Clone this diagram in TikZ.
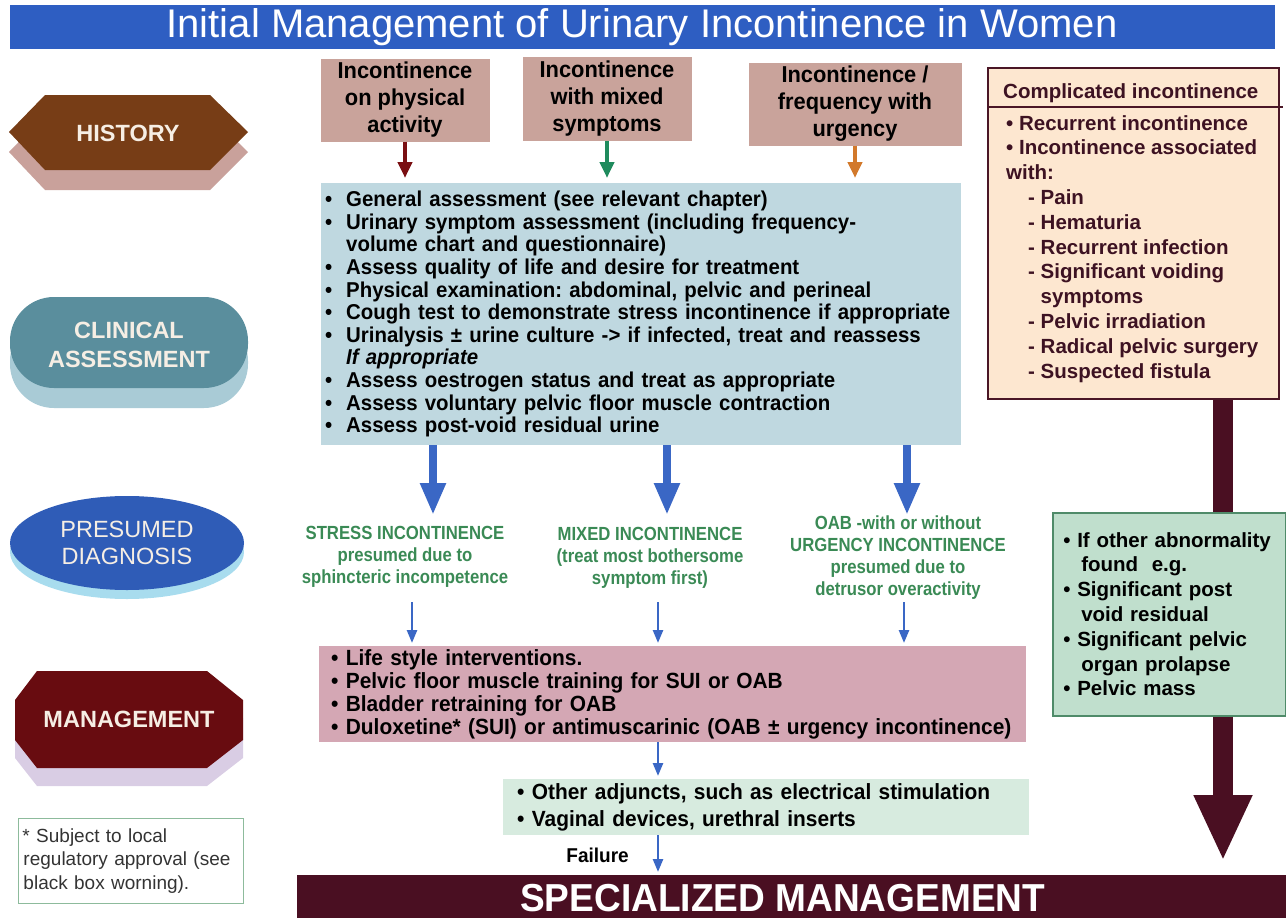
\documentclass[tikz,border=0pt]{standalone}
\usepackage{fontspec}
\setmainfont{Liberation Sans}
\newfontfamily\narrowfont[FakeStretch=0.95]{Liberation Sans}
\newfontfamily\condfont[FakeStretch=0.88]{Liberation Sans}
\usepackage{tikz}
\usetikzlibrary{arrows.meta}
\frenchspacing

\definecolor{titleblue}{HTML}{2E5EC2}
\definecolor{histbrown}{HTML}{773D16}
\definecolor{histshade}{HTML}{C9A19B}
\definecolor{histfill}{HTML}{C9A39B}
\definecolor{clinteal}{HTML}{5A8E9D}
\definecolor{clinshade}{HTML}{A9CBD6}
\definecolor{clinfill}{HTML}{BFD8E0}
\definecolor{diagblue}{HTML}{2F5CB7}
\definecolor{diagshade}{HTML}{A8DCEE}
\definecolor{diaggreen}{HTML}{3A8A55}
\definecolor{mgmtred}{HTML}{680C10}
\definecolor{mgmtshade}{HTML}{D9CDE4}
\definecolor{mgmtfill}{HTML}{D4A7B4}
\definecolor{adjfill}{HTML}{D7EBDF}
\definecolor{specred}{HTML}{4A0F22}
\definecolor{compfill}{HTML}{FDE7D0}
\definecolor{compline}{HTML}{4A1626}
\definecolor{comptext}{HTML}{3D1222}
\definecolor{greenfill}{HTML}{C0DFCD}
\definecolor{greenline}{HTML}{4F8B69}
\definecolor{notegreen}{HTML}{8DBB9C}
\definecolor{arrowblue}{HTML}{3A67C5}
\definecolor{arrowred}{HTML}{7A0F12}
\definecolor{arrowgreen}{HTML}{1F8B5D}
\definecolor{arroworange}{HTML}{D2792B}
\definecolor{labtext}{HTML}{F6EEE4}

\newcommand\bul{\makebox[21pt][l]{\textbullet}}

\begin{document}
\begin{tikzpicture}[x=1pt,y=-1pt,
  every node/.style={inner sep=0pt},
  lab/.style={text=labtext,align=center,font=\bfseries\fontsize{23.5}{29}\selectfont},
  hbox/.style={fill=histfill,align=center,font=\narrowfont\bfseries\fontsize{23}{27}\selectfont},
  box/.style={anchor=north west,align=left,inner xsep=3pt,font=\narrowfont\bfseries\fontsize{21.5}{22.6}\selectfont},
  diag/.style={text=diaggreen,align=center,font=\condfont\bfseries\fontsize{19}{22}\selectfont},
  side/.style={anchor=north west,align=left,font=\bfseries\fontsize{20.5}{24.8}\selectfont},
  fatarrow/.style={arrowblue,line width=8pt,-{Triangle[width=24pt,length=32pt]}},
  thinarrow/.style={arrowblue,line width=2.5pt,-{Triangle[width=10pt,length=13pt]},shorten >=3pt},
  histarrow/.style={line width=4pt,-{Triangle[width=14pt,length=16pt]},shorten >=5pt}]
\useasboundingbox (0,0) rectangle (1286,918);

\node[fill=titleblue,minimum width=1265pt,minimum height=44pt,text=white,font=\fontsize{40}{40}\selectfont] (title) at (642,27) {Initial Management of Urinary Incontinence in Women};

\fill[histshade] (9,152) -- (45,115) -- (210,115) -- (248,152) -- (210,190) -- (45,190) -- cycle;
\fill[histbrown] (9,132) -- (45,95) -- (210,95) -- (248,132) -- (210,170) -- (45,170) -- cycle;
\node[lab] (hist) at (128,133) {HISTORY};

\fill[clinshade,rounded corners=44pt] (10,317) rectangle (248,408);
\fill[clinteal,rounded corners=44pt] (10,297) rectangle (248,388);
\node[lab] (clinlab) at (129,345) {CLINICAL\\ASSESSMENT};

\fill[diagshade] (127,552) ellipse [x radius=117, y radius=47];
\fill[diagblue] (127,543) ellipse [x radius=117, y radius=47];
\node[lab,font=\fontsize{23.5}{27}\selectfont] (diaglab) at (127,543) {PRESUMED\\DIAGNOSIS};

\fill[mgmtshade] (37,689) -- (207,689) -- (243,718) -- (243,758) -- (207,786) -- (37,786) -- (15,758) -- (15,718) -- cycle;
\fill[mgmtred] (37,671) -- (207,671) -- (243,700) -- (243,740) -- (207,768) -- (37,768) -- (15,740) -- (15,700) -- cycle;
\node[lab] (mgmtlab) at (129,719) {MANAGEMENT};

\node[anchor=north west,draw=notegreen,line width=1pt,minimum height=85pt,text width=217pt,inner xsep=4pt,align=left,text=black!80,font=\fontsize{19}{23.5}\selectfont] (note) at (18,818) {* Subject to local\\\hspace*{1pt}regulatory approval (see\\\hspace*{1pt}black box worning).};

\node[hbox,minimum width=169pt,minimum height=83pt] (h1) at (405,100) {Incontinence\\on physical\\activity};
\node[hbox,minimum width=169pt,minimum height=84pt] (h2) at (607,99) {Incontinence\\with mixed\\symptoms};
\node[hbox,minimum width=213pt,minimum height=83pt] (h3) at (855,104) {Incontinence /\\frequency with\\urgency};

\node[box,fill=clinfill,minimum width=640pt,minimum height=262pt,inner xsep=4pt,text width=632pt] (clin) at (321,183) {\hyphenpenalty=10000%
\bul General assessment (see relevant chapter)\\
\bul Urinary symptom assessment (including frequency-\\
\hspace*{21pt}volume chart and questionnaire)\\
\bul Assess quality of life and desire for treatment\\
\bul Physical examination: abdominal, pelvic and perineal\\
\bul Cough test to demonstrate stress incontinence if appropriate\\
\bul Urinalysis ± urine culture -> if infected, treat and reassess\\
\hspace*{21pt}\textit{If appropriate}\\
\bul Assess oestrogen status and treat as appropriate\\
\bul Assess voluntary pelvic floor muscle contraction\\
\bul Assess post-void residual urine};

\draw[histarrow,arrowred] (h1) -- (h1 |- clin.north);
\draw[histarrow,arrowgreen] (h2) -- (h2 |- clin.north);
\draw[histarrow,arroworange] (h3) -- (h3 |- clin.north);

\node[diag] (dg1) at (405,557) {STRESS INCONTINENCE\\presumed due to\\sphincteric incompetence};
\node[diag] (dg2) at (650,558) {MIXED INCONTINENCE\\(treat most bothersome\\symptom first)};
\node[diag] (dg3) at (898,558) {OAB -with or without\\URGENCY INCONTINENCE\\presumed due to\\detrusor overactivity};

\node[box,fill=mgmtfill,minimum width=707pt,minimum height=96pt,inner xsep=12pt,text width=683pt,font=\narrowfont\bfseries\fontsize{22}{23}\selectfont] (mgmt) at (319,646) {%
\textbullet\ Life style interventions.\\
\textbullet\ Pelvic floor muscle training for SUI or OAB\\
\textbullet\ Bladder retraining for OAB\\
\textbullet\ Duloxetine* (SUI) or antimuscarinic (OAB ± urgency incontinence)};

\coordinate (tipline) at (0,515);
\coordinate (thinline) at (0,602);
\foreach \d/\a/\b in {dg1/28/7,dg2/17/8,dg3/9/6}{
  \path ([xshift=\a pt]\d.north) coordinate (top) ([xshift=\b pt]\d.south) coordinate (bot);
  \draw[fatarrow] (clin.south -| top) -- (tipline -| top);
  \draw[thinarrow] (thinline -| bot) -- (mgmt.north -| bot);
}

\node[box,fill=adjfill,minimum width=526pt,minimum height=56pt,inner xsep=14pt,text width=498pt,font=\narrowfont\bfseries\fontsize{22}{27}\selectfont] (adj) at (503,779) {%
\textbullet\ Other adjuncts, such as electrical stimulation\\
\textbullet\ Vaginal devices, urethral inserts};

\node[anchor=north west,fill=specred,minimum width=995pt,minimum height=45pt,text=white,font=\narrowfont\bfseries\fontsize{39}{40}\selectfont] (spec) at (297,875) {\hspace*{-24pt}SPECIALIZED MANAGEMENT};

\coordinate (spine) at (658,0);
\draw[thinarrow] (mgmt.south -| spine) -- (adj.north -| spine);
\draw[thinarrow] (adj.south -| spine) -- node[left=28pt,text=black,font=\narrowfont\bfseries\fontsize{20}{20}\selectfont] (fail) {Failure} (spec.north -| spine);

\node[anchor=north west,draw=compline,line width=2pt,fill=compfill,minimum width=291pt,minimum height=331pt] (comp) at (987,67) {};
\coordinate (sep) at (0,107);
\node[side,anchor=west,text=comptext] (comptitle) at (1003,93) {Complicated incontinence};
\draw[compline,line width=1.5pt] (comp.west |- sep) -- +(296,0);
\node[side,text=comptext] (complist) at (1006,115) {%
\textbullet\ Recurrent incontinence\\
\textbullet\ Incontinence associated\\
with:\\
\hspace*{22pt}- Pain\\
\hspace*{22pt}- Hematuria\\
\hspace*{22pt}- Recurrent infection\\
\hspace*{22pt}- Significant voiding\\
\hspace*{34.5pt}symptoms\\
\hspace*{22pt}- Pelvic irradiation\\
\hspace*{22pt}- Radical pelvic surgery\\
\hspace*{22pt}- Suspected fistula};

\node[side,draw=greenline,line width=1.5pt,fill=greenfill,minimum height=203pt,inner xsep=10.5pt,text width=212pt] (green) at (1052,512) {%
\textbullet\ If other abnormality\\
\hspace*{18pt}found\ \ e.g.\\
\textbullet\ Significant post\\
\hspace*{18pt}void residual\\
\textbullet\ Significant pelvic\\
\hspace*{18pt}organ prolapse\\
\textbullet\ Pelvic mass};

\coordinate (trunk) at (1223,0);
\draw[specred,line width=20pt] (comp.south -| trunk) -- (green.north -| trunk);
\draw[specred,line width=20pt,-{Triangle[width=54pt,length=66pt]},shorten >=14pt] (green.south -| trunk) -- (spec.north -| trunk);
\end{tikzpicture}
\end{document}
